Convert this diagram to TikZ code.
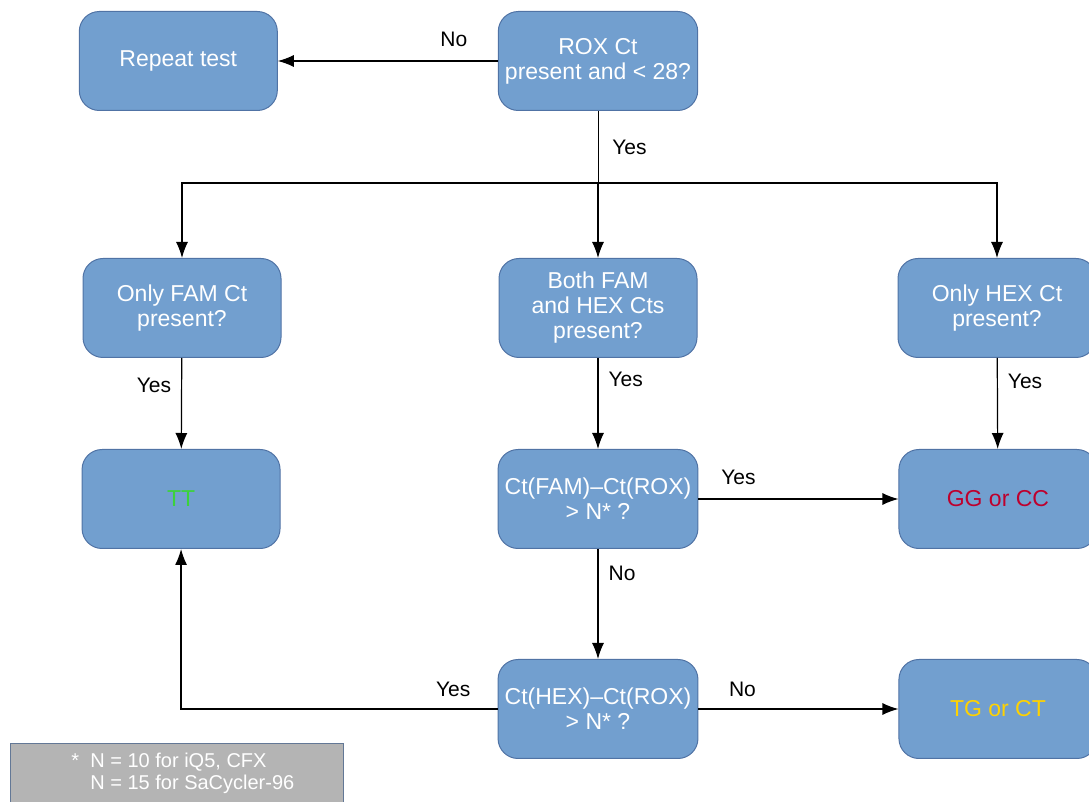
\documentclass[tikz,border=0pt]{standalone}
\usepackage{fontspec}
\setmainfont{Liberation Sans}
\usetikzlibrary{arrows.meta,positioning}

\definecolor{boxblue}{RGB}{114,159,207}
\definecolor{boxedge}{RGB}{80,115,165}
\definecolor{notegray}{RGB}{180,180,180}
\definecolor{ttgreen}{RGB}{60,210,60}
\definecolor{ggred}{RGB}{190,0,45}
\definecolor{tgyellow}{RGB}{255,210,0}

\begin{document}
\begin{tikzpicture}[
    x=0.5pt, y=0.5pt,
    font=\fontsize{10.5}{12}\selectfont,
    box/.style={draw=boxedge, fill=boxblue, rounded corners=10pt, align=center,
      text=white, minimum width=99pt, minimum height=49.5pt, line width=0.5pt,
      font=\fontsize{11.5}{12.5}\selectfont},
    note/.style={draw=boxedge!60!gray, fill=notegray, align=left, text=white,
      minimum width=166.5pt, anchor=north west, inner ysep=5pt, text depth=14pt,
      font=\fontsize{10}{11}\selectfont},
    arrow/.style={-{Latex[length=8pt,width=6pt]}, line width=0.6pt},
    lbl/.style={inner sep=1pt}
  ]
  \clip (0,0) rectangle (1089,-802);

  \node[box] (rox) at (598,-61) {ROX Ct\\present and  < 28?};
  \node[box, left=110pt of rox] (repeat) {Repeat test};

  \coordinate[below=36pt of rox] (fork);

  \node[box, below=73.5pt of rox] (both) {Both FAM\\and HEX Cts\\present?};
  \node[box, left=108.5pt of both] (onlyfam) {Only FAM Ct\\present?};
  \node[box, right=100pt of both] (onlyhex) {Only HEX Ct\\present?};

  \node[box, below=45.5pt of both] (ctfam) {Ct(FAM)--Ct(ROX)\\> N* ?};
  \node[box, left=108.5pt of ctfam] (tt) {\textcolor{ttgreen}{TT}};
  \node[box, right=100pt of ctfam] (gg) {\textcolor{ggred}{GG or CC}};

  \node[box, below=55pt of ctfam] (cthex) {Ct(HEX)--Ct(ROX)\\> N* ?};
  \node[box, right=100pt of cthex] (tg) {\textcolor{tgyellow}{TG or CT}};

  \node[note] (footnote) at (10,-743)
    {\hspace*{6pt}*~~N = 10 for iQ5, CFX\\\hspace*{6pt}\phantom{*~~}N = 15 for SaCycler-96};

  \draw[arrow] (rox.west) -- node[lbl, pos=0.2, above=6pt]{No} (repeat.east);
  \draw (rox.south) -- node[lbl, right=6pt]{Yes} (fork);
  \draw[arrow] (fork) -| (onlyfam.north);
  \draw[arrow] (fork) -- (both.north);
  \draw[arrow] (fork) -| (onlyhex.north);
  \draw[arrow] (onlyfam) -- node[lbl, pos=0.3, left=4pt]{Yes} (tt);
  \draw[arrow] (both) -- node[lbl, pos=0.23, right=4pt]{Yes} (ctfam);
  \draw[arrow] (onlyhex) -- node[lbl, pos=0.26, right=4pt]{Yes} (gg);
  \draw[arrow] (ctfam) -- node[lbl, pos=0.2, above=6pt]{Yes} (gg);
  \draw[arrow] (ctfam) -- node[lbl, pos=0.22, right=4pt]{No} (cthex);
  \draw[arrow] (cthex.west) -| node[lbl, pos=0.07, above=5pt]{Yes} (tt.south);
  \draw[arrow] (cthex) -- node[lbl, pos=0.22, above=5pt]{No} (tg);
\end{tikzpicture}
\end{document}
